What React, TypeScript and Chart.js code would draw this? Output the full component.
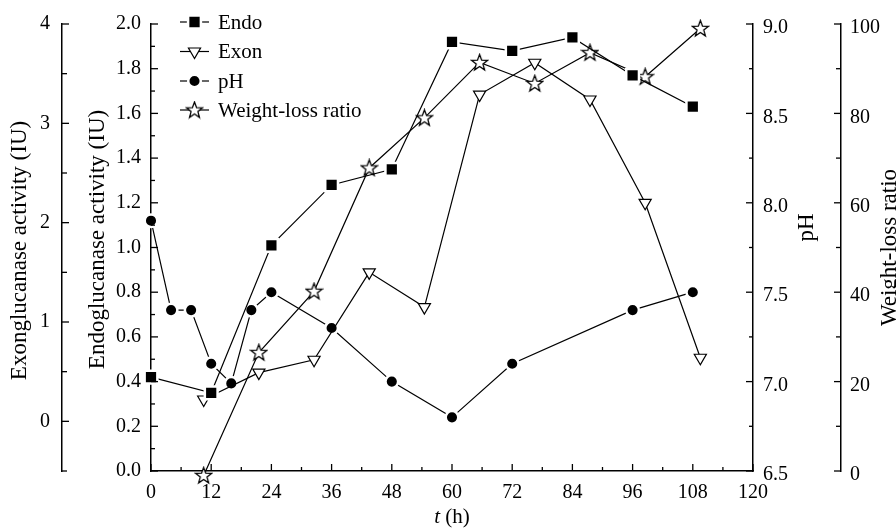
import React, { useEffect, useRef } from 'react';
import { Chart, registerables } from 'chart.js';

Chart.register(...registerables);

// ---- data ----
const endoTimes = [0, 12, 24, 36, 48, 60, 72, 84, 96, 108];
const endoValues = [0.42, 0.35, 1.01, 1.28, 1.35, 1.92, 1.88, 1.94, 1.77, 1.63];
const exonTimes = [10.5, 21.5, 32.5, 43.5, 54.5, 65.5, 76.5, 87.5, 98.5, 109.5];
const exonValues = [0.22, 0.49, 0.62, 1.5, 1.15, 3.29, 3.61, 3.24, 2.2, 0.64];
const phTimes = [0, 4, 8, 12, 16, 20, 24, 36, 48, 60, 72, 96, 108];
const phValues = [7.9, 7.4, 7.4, 7.1, 6.99, 7.4, 7.5, 7.3, 7.0, 6.8, 7.1, 7.4, 7.5];
const weightTimes = [10.5, 21.5, 32.5, 43.5, 54.5, 65.5, 76.5, 87.5, 98.5, 109.5];
const weightValues = [-1, 26.5, 40.2, 67.8, 79, 91.4, 86.7, 93.6, 88.2, 99];

const seriesNames = ['Endo', 'Exon', 'pH', 'Weight-loss ratio'];

// tick labels
const xTickLabels = [0, 12, 24, 36, 48, 60, 72, 84, 96, 108, 120];
const endoTickLabels = [0, 0.2, 0.4, 0.6, 0.8, 1.0, 1.2, 1.4, 1.6, 1.8, 2.0];
const exonTickLabels = [0, 1, 2, 3, 4];
const phTickLabels = [6.5, 7.0, 7.5, 8.0, 8.5, 9.0];
const weightTickLabels = [0, 20, 40, 60, 80, 100];

const axisTitles = {
  exon: 'Exonglucanase activity (IU)',
  endo: 'Endoglucanase activity (IU)',
  ph: 'pH',
  weight: 'Weight-loss ratio',
};

const FONT = '"Liberation Serif", "Times New Roman", Times, serif';

const inList = (arr: number[], v: number) => arr.some((a) => Math.abs(a - v) < 1e-6);

function makeStar(size: number) {
  const c = document.createElement('canvas');
  c.width = size;
  c.height = size;
  const ctx = c.getContext('2d')!;
  const cx = size / 2;
  const cy = size / 2 + 0.5;
  const R = size / 2 - 1;
  const r = R * 0.42;
  ctx.beginPath();
  for (let i = 0; i < 10; i++) {
    const ang = -Math.PI / 2 + (i * Math.PI) / 5;
    const rad = i % 2 === 0 ? R : r;
    const px = cx + rad * Math.cos(ang);
    const py = cy + rad * Math.sin(ang);
    if (i === 0) ctx.moveTo(px, py);
    else ctx.lineTo(px, py);
  }
  ctx.closePath();
  ctx.fillStyle = '#fff';
  ctx.fill();
  ctx.strokeStyle = '#000';
  ctx.lineWidth = 1.3;
  ctx.lineJoin = 'miter';
  ctx.stroke();
  return c;
}

function drawMarker(ctx: CanvasRenderingContext2D, kind: string, x: number, y: number, star: HTMLCanvasElement) {
  ctx.save();
  if (kind === 'rect') {
    const s = 6.4;
    ctx.beginPath();
    ctx.rect(x - s, y - s, 2 * s, 2 * s);
    ctx.fillStyle = '#000';
    ctx.fill();
    ctx.strokeStyle = '#fff';
    ctx.lineWidth = 2.5;
    ctx.stroke();
  } else if (kind === 'tri') {
    const r = 7;
    ctx.beginPath();
    for (let i = 0; i < 3; i++) {
      const a = Math.PI / 2 + (i * 2 * Math.PI) / 3;
      const px = x + r * Math.cos(a);
      const py = y + r * Math.sin(a);
      if (i === 0) ctx.moveTo(px, py);
      else ctx.lineTo(px, py);
    }
    ctx.closePath();
    ctx.fillStyle = '#fff';
    ctx.fill();
    ctx.strokeStyle = '#000';
    ctx.lineWidth = 1.2;
    ctx.stroke();
  } else if (kind === 'circle') {
    ctx.beginPath();
    ctx.arc(x, y, 6.3, 0, Math.PI * 2);
    ctx.fillStyle = '#000';
    ctx.fill();
    ctx.strokeStyle = '#fff';
    ctx.lineWidth = 2.5;
    ctx.stroke();
  } else {
    ctx.drawImage(star, x - star.width / 2, y - star.height / 2);
  }
  ctx.restore();
}

export default function App() {
  const ref = useRef<HTMLCanvasElement>(null);

  useEffect(() => {
    const canvas = ref.current!;
    const star = makeStar(19);

    const decorPlugin = {
      id: 'decor',
      afterDraw(chart: any) {
        const ctx: CanvasRenderingContext2D = chart.ctx;
        const s = chart.scales;
        ctx.save();
        ctx.strokeStyle = '#000';
        ctx.lineWidth = 1.3;
        const line = (x1: number, y1: number, x2: number, y2: number) => {
          ctx.beginPath();
          ctx.moveTo(x1, y1);
          ctx.lineTo(x2, y2);
          ctx.stroke();
        };
        // inward tick marks
        s.x.ticks.forEach((t: any) => {
          const px = s.x.getPixelForValue(t.value);
          const len = inList(xTickLabels, t.value) ? 7 : 4;
          line(px, s.x.top, px, s.x.top - len);
        });
        s.yEndo.ticks.forEach((t: any) => {
          const py = s.yEndo.getPixelForValue(t.value);
          const len = inList(endoTickLabels, t.value) ? 7 : 4;
          line(s.yEndo.right, py, s.yEndo.right + len, py);
        });
        s.yExon.ticks.forEach((t: any) => {
          const py = s.yExon.getPixelForValue(t.value);
          const len = inList(exonTickLabels, t.value) ? 7 : 5;
          line(s.yExon.right, py, s.yExon.right + len, py);
        });
        s.yPh.ticks.forEach((t: any) => {
          const py = s.yPh.getPixelForValue(t.value);
          const len = inList(phTickLabels, t.value) ? 7 : 4;
          line(s.yPh.left, py, s.yPh.left - len, py);
        });
        s.yWeight.ticks.forEach((t: any) => {
          const py = s.yWeight.getPixelForValue(t.value);
          const len = inList(weightTickLabels, t.value) ? 7 : 5;
          line(s.yWeight.left, py, s.yWeight.left - len, py);
        });

        // axis titles
        ctx.fillStyle = '#000';
        ctx.textAlign = 'center';
        ctx.textBaseline = 'middle';
        const area = chart.chartArea;
        const midY = (area.top + area.bottom) / 2;
        const rot = (text: string, x: number, y: number, size: number) => {
          ctx.save();
          ctx.font = `${size}px ${FONT}`;
          ctx.translate(x, y);
          ctx.rotate(-Math.PI / 2);
          ctx.fillText(text, 0, 0);
          ctx.restore();
        };
        rot(axisTitles.exon, 20, midY + 3, 23);
        rot(axisTitles.endo, 98, midY - 8, 23);
        rot(axisTitles.ph, 807, midY - 20, 23);
        rot(axisTitles.weight, 890, midY, 23);

        // x title: italic t + " (h)"
        const xc = (area.left + area.right) / 2;
        const ty = 517;
        ctx.font = `italic 21px ${FONT}`;
        const wT = ctx.measureText('t').width;
        ctx.font = `21px ${FONT}`;
        const wH = ctx.measureText(' (h)').width;
        const startX = xc - (wT + wH) / 2;
        ctx.textAlign = 'left';
        ctx.font = `italic 21px ${FONT}`;
        ctx.fillText('t', startX, ty);
        ctx.font = `21px ${FONT}`;
        ctx.fillText(' (h)', startX + wT, ty);

        // legend
        const kinds = ['rect', 'tri', 'circle', 'star'];
        const rows = [22, 51.5, 81, 110];
        ctx.font = `21px ${FONT}`;
        ctx.textAlign = 'left';
        ctx.textBaseline = 'middle';
        seriesNames.forEach((name, i) => {
          const y = rows[i];
          ctx.lineWidth = 1.2;
          line(180, y, 209, y);
          drawMarker(ctx, kinds[i], 194.5, y, star);
          ctx.fillStyle = '#000';
          ctx.fillText(name, 218, y + 1);
        });
        ctx.restore();
      },
    };

    const tickFont = { family: FONT, size: 20 };
    const common = {
      grid: { drawOnChartArea: false, drawTicks: false },
      border: { display: true, color: '#000', width: 1.5 },
    };

    const chart = new Chart(canvas, {
      type: 'line',
      data: {
        datasets: [
          {
            label: seriesNames[0],
            data: endoTimes.map((t, i) => ({ x: t, y: endoValues[i] })),
            yAxisID: 'yEndo',
            borderColor: '#000',
            borderWidth: 1.2,
            pointStyle: 'rect',
            pointRadius: 9,
            pointBackgroundColor: '#000',
            pointBorderColor: '#fff',
            pointBorderWidth: 2.5,
            clip: false,
          },
          {
            label: seriesNames[1],
            data: exonTimes.map((t, i) => ({ x: t, y: exonValues[i] })),
            yAxisID: 'yExon',
            borderColor: '#000',
            borderWidth: 1.2,
            pointStyle: 'triangle',
            pointRotation: 180,
            pointRadius: 7,
            pointBackgroundColor: '#fff',
            pointBorderColor: '#000',
            pointBorderWidth: 1.2,
            clip: false,
          },
          {
            label: seriesNames[2],
            data: phTimes.map((t, i) => ({ x: t, y: phValues[i] })),
            yAxisID: 'yPh',
            borderColor: '#000',
            borderWidth: 1.2,
            pointStyle: 'circle',
            pointRadius: 6.3,
            pointBackgroundColor: '#000',
            pointBorderColor: '#fff',
            pointBorderWidth: 2.5,
            clip: false,
          },
          {
            label: seriesNames[3],
            data: weightTimes.map((t, i) => ({ x: t, y: weightValues[i] })),
            yAxisID: 'yWeight',
            borderColor: '#000',
            borderWidth: 1.2,
            pointStyle: star as any,
            pointRadius: 9,
            clip: false,
          },
        ],
      },
      options: {
        animation: false,
        responsive: true,
        maintainAspectRatio: false,
        events: [],
        layout: { padding: { left: 0, right: 0, top: 23, bottom: 0 } },
        plugins: { legend: { display: false }, tooltip: { enabled: false } },
        scales: {
          x: {
            type: 'linear',
            position: 'bottom',
            min: 0,
            max: 120,
            ...common,
            ticks: {
              stepSize: 6,
              autoSkip: false,
              maxRotation: 0,
              padding: 10,
              color: '#000',
              font: tickFont,
              callback: (v: any) => (inList(xTickLabels, Number(v)) ? String(Math.round(Number(v))) : ''),
            },
            afterFit: (sc: any) => {
              sc.height = 57;
            },
          },
          yEndo: {
            type: 'linear',
            position: 'left',
            weight: 0,
            min: 0,
            max: 2,
            ...common,
            ticks: {
              stepSize: 0.1,
              autoSkip: false,
              padding: 10,
              color: '#000',
              font: tickFont,
              callback: (v: any) => (inList(endoTickLabels, Number(v)) ? Number(v).toFixed(1) : ''),
            },
            afterFit: (sc: any) => {
              sc.width = 89;
            },
          },
          yExon: {
            type: 'linear',
            position: 'left',
            weight: 1,
            min: -0.5,
            max: 4,
            ...common,
            ticks: {
              stepSize: 0.5,
              autoSkip: false,
              padding: 12,
              color: '#000',
              font: tickFont,
              callback: (v: any) => (inList(exonTickLabels, Number(v)) ? String(Math.round(Number(v))) : ''),
            },
            afterFit: (sc: any) => {
              sc.width = 62;
            },
          },
          yPh: {
            type: 'linear',
            position: 'right',
            weight: 0,
            min: 6.5,
            max: 9,
            ...common,
            ticks: {
              stepSize: 0.25,
              autoSkip: false,
              padding: 10,
              labelOffset: 4,
              color: '#000',
              font: tickFont,
              callback: (v: any) => (inList(phTickLabels, Number(v)) ? Number(v).toFixed(1) : ''),
            },
            afterFit: (sc: any) => {
              sc.width = 88;
            },
          },
          yWeight: {
            type: 'linear',
            position: 'right',
            weight: 1,
            min: 0,
            max: 100,
            ...common,
            ticks: {
              stepSize: 10,
              autoSkip: false,
              padding: 9,
              labelOffset: 4,
              color: '#000',
              font: tickFont,
              callback: (v: any) => (inList(weightTickLabels, Number(v)) ? String(Math.round(Number(v))) : ''),
            },
            afterFit: (sc: any) => {
              sc.width = 55;
            },
          },
        },
      } as any,
      plugins: [decorPlugin],
    });

    return () => chart.destroy();
  }, []);

  return (
    <div style={{ position: 'absolute', left: 0, top: 0, width: 896, height: 528, background: '#fff' }}>
      <canvas ref={ref} />
    </div>
  );
}
